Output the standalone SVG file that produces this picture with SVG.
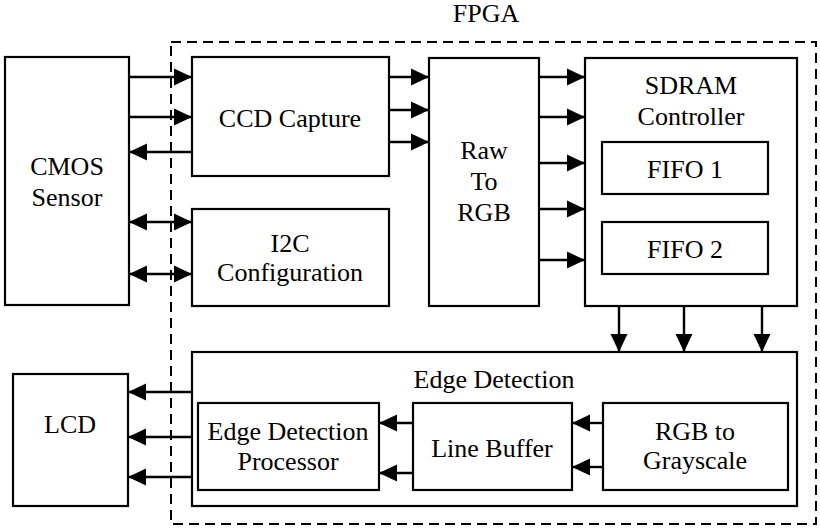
<svg xmlns="http://www.w3.org/2000/svg" width="820" height="529" viewBox="0 0 820 529">
<style>
.box{fill:#fff;stroke:#000;stroke-width:2.2}
.fpga{fill:none;stroke:#000;stroke-width:2;stroke-dasharray:10 6}
.t{font-family:'Liberation Serif','DejaVu Serif','Times New Roman',Times,serif;font-size:26px;fill:#000;text-anchor:middle}
.c line{stroke:#000;stroke-width:2.4}
.a{marker-end:url(#ah)}
.b{marker-start:url(#ahs);marker-end:url(#ah)}
</style>
<defs>
<marker id="ah" markerUnits="userSpaceOnUse" markerWidth="18" markerHeight="18" viewBox="0 0 17 16" refX="17" refY="8" orient="auto">
<path d="M0,0 L17,8 L0,16 Z" fill="#000"/>
</marker>
<marker id="ahs" markerUnits="userSpaceOnUse" markerWidth="18" markerHeight="18" viewBox="0 0 17 16" refX="0" refY="8" orient="auto">
<path d="M17,0 L0,8 L17,16 Z" fill="#000"/>
</marker>
</defs>
<rect class="fpga" x="171" y="42" width="645" height="482"/>
<text class="t" x="486" y="22" font-family="Liberation Serif, serif">FPGA</text>
<g id="cmos"><rect class="box" x="5" y="57" width="124" height="248"/><text class="t" x="67" y="175">CMOS</text><text class="t" x="67" y="206">Sensor</text></g>
<g id="ccd"><rect class="box" x="192" y="57" width="197" height="119"/><text class="t" x="290" y="127">CCD Capture</text></g>
<g id="i2c"><rect class="box" x="192" y="209" width="197" height="97"/><text class="t" x="290" y="252">I2C</text><text class="t" x="290" y="281">Configuration</text></g>
<g id="raw"><rect class="box" x="429" y="58" width="110" height="248"/><text class="t" x="484" y="159">Raw</text><text class="t" x="484" y="190">To</text><text class="t" x="484" y="221">RGB</text></g>
<g id="sdram"><rect class="box" x="585" y="58" width="212" height="248"/><text class="t" x="691" y="94">SDRAM</text><text class="t" x="691" y="125">Controller</text></g>
<g id="fifo1"><rect class="box" x="602" y="142" width="166" height="52"/><text class="t" x="685" y="178">FIFO 1</text></g>
<g id="fifo2"><rect class="box" x="602" y="222" width="166" height="52"/><text class="t" x="685" y="258">FIFO 2</text></g>
<g id="lcd"><rect class="box" x="13" y="374" width="115" height="132"/><text class="t" x="70" y="433">LCD</text></g>
<g id="edge"><rect class="box" x="192" y="352" width="605" height="154"/><text class="t" x="494" y="388">Edge Detection</text></g>
<g id="edp"><rect class="box" x="198" y="403" width="181" height="87"/><text class="t" x="288" y="440">Edge Detection</text><text class="t" x="288" y="470">Processor</text></g>
<g id="lb"><rect class="box" x="413" y="403" width="159" height="87"/><text class="t" x="492" y="457">Line Buffer</text></g>
<g id="gray"><rect class="box" x="603" y="403" width="185" height="87"/><text class="t" x="695" y="440">RGB to</text><text class="t" x="695" y="469">Grayscale</text></g>
<g id="connectors" class="c">
<line class="a" x1="129" y1="77" x2="192" y2="77"/>
<line class="a" x1="129" y1="117" x2="192" y2="117"/>
<line class="a" x1="192" y1="152" x2="129" y2="152"/>
<line class="b" x1="129" y1="222" x2="192" y2="222"/>
<line class="b" x1="129" y1="274" x2="192" y2="274"/>
<line class="a" x1="389" y1="77" x2="429" y2="77"/>
<line class="a" x1="389" y1="110" x2="429" y2="110"/>
<line class="a" x1="389" y1="142" x2="429" y2="142"/>
<line class="a" x1="539" y1="77" x2="585" y2="77"/>
<line class="a" x1="539" y1="117" x2="585" y2="117"/>
<line class="a" x1="539" y1="163" x2="585" y2="163"/>
<line class="a" x1="539" y1="209" x2="585" y2="209"/>
<line class="a" x1="539" y1="260" x2="585" y2="260"/>
<line class="a" x1="619" y1="306" x2="619" y2="352"/>
<line class="a" x1="684" y1="306" x2="684" y2="352"/>
<line class="a" x1="762" y1="306" x2="762" y2="352"/>
<line class="a" x1="192" y1="392" x2="128" y2="392"/>
<line class="a" x1="192" y1="437" x2="128" y2="437"/>
<line class="a" x1="192" y1="477" x2="128" y2="477"/>
<line class="a" x1="603" y1="423" x2="572" y2="423"/>
<line class="a" x1="604" y1="467" x2="572" y2="467"/>
<line class="a" x1="413" y1="423" x2="379" y2="423"/>
<line class="a" x1="413" y1="473" x2="379" y2="473"/>
</g>
</svg>
